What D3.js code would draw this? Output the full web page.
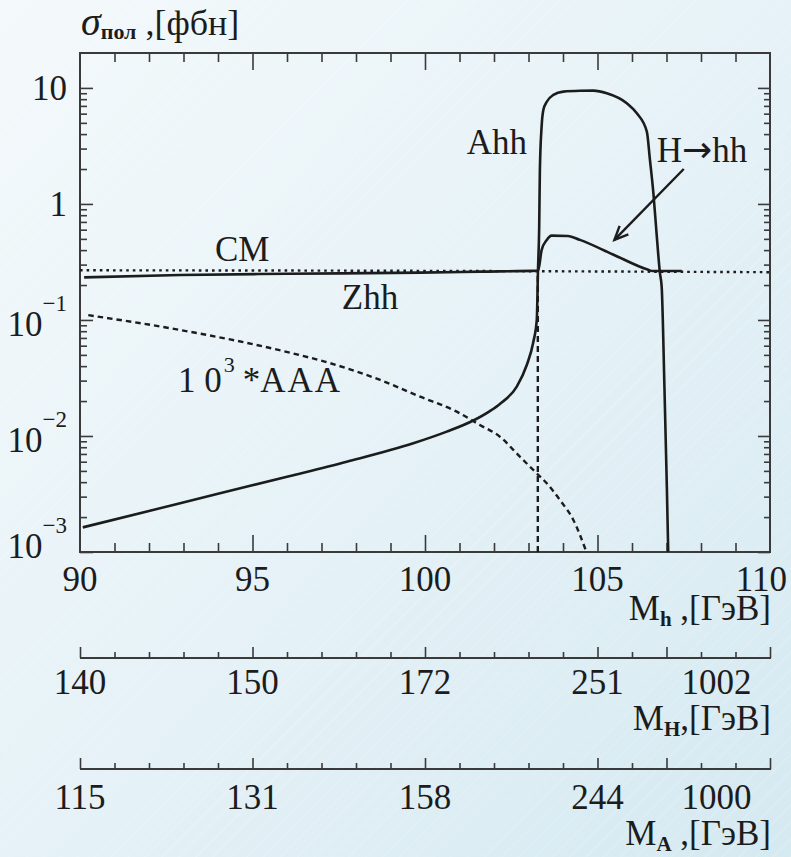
<!DOCTYPE html>
<html><head><meta charset="utf-8">
<script src="https://cdn.jsdelivr.net/npm/d3@7"></script>
<style>
html,body{margin:0;padding:0;background:#eaf4f8}svg{display:block}
svg text{font-family:"Liberation Serif","Times New Roman",Times,"Tinos","Nimbus Roman","DejaVu Serif","Noto Serif",serif;}
</style>
</head><body>
<svg id="c" width="791" height="857"></svg>
<script>
// ---------- data ----------
const cmMh   = [90, 100, 110];
const cmVal  = [0.268, 0.265, 0.258];

const zhhMh  = [90.12, 92.9, 96.0, 99.86, 101.6, 103.28, 103.38, 103.53, 103.67, 104.14, 104.49, 105.45, 106.45, 106.6, 107.44];
const zhhVal = [0.233, 0.244, 0.25, 0.256, 0.261, 0.266, 0.40, 0.49, 0.533, 0.530, 0.49, 0.367, 0.272, 0.264, 0.264];

const ahhMh  = [90.08, 92.0, 94.0, 96.09, 97.73, 99.66, 100.63, 101.40, 101.88, 102.17, 102.66, 102.95, 103.14, 103.24, 103.275, 103.31, 103.33, 103.38, 103.43, 103.53, 103.72, 104.01, 104.5, 104.88, 105.27, 105.85, 106.14, 106.43, 106.52, 106.62, 106.72, 106.81, 106.86, 106.94, 107.01, 107.05];
const ahhVal = [0.00163, 0.00226, 0.00318, 0.00452, 0.0060, 0.00865, 0.0109, 0.0136, 0.0164, 0.0189, 0.0266, 0.0409, 0.0646, 0.1, 0.27, 0.637, 1.96, 4.64, 6.46, 7.6, 8.7, 9.29, 9.45, 9.48, 9.0, 7.38, 6.05, 4.2, 2.4, 1.24, 0.52, 0.253, 0.194, 0.0266, 0.00366, 0.001];

const aaaMh  = [90.24, 92.9, 96.09, 97.25, 98.70, 99.86, 100.92, 101.59, 102.17, 102.75, 103.19, 103.53, 103.91, 104.30, 104.68];
const aaaVal = [0.110, 0.082, 0.0522, 0.0424, 0.0304, 0.0218, 0.0162, 0.01245, 0.00986, 0.00663, 0.00492, 0.00391, 0.00281, 0.00189, 0.001];

const thresholdMh = 103.27;
const thresholdVal = [0.001, 0.266];

const xMajor = [95, 100, 105];
const xMinor = d3.range(91, 110);
const xLabels = [90, 95, 100, 105, 110];
const xLabelPos = [90, 95, 100, 105, 109.75];

const yMajor = [1e-3, 1e-2, 1e-1, 1, 10];
const yLabelBase = ["10", "1", "10", "10", "10"];
const yLabelExp  = ["", "", "\u22121", "\u22122", "\u22123"];
const yLabelVals = [10, 1, 1e-1, 1e-2, 1e-3];

const secTicks = d3.range(90, 111);
const secMajor = [90, 95, 100, 105, 107, 110];
const secLabelPos = [90, 95, 100, 105, 108.45];
const mHLabels = ["140", "150", "172", "251", "1002"];
const mALabels = ["115", "131", "158", "244", "1000"];

const arrowFrom = [107.5, 2.0];
const arrowTo   = [105.49, 0.49];

// ---------- setup ----------
const svg = d3.select("#c");
const INK = "#1c1c1c", AX = "#3a3a3a";
const L = 80, R = 770, T = 53, B = 552;
const x = d3.scaleLinear().domain([90, 110]).range([L, R]);
const y = d3.scaleLog().domain([1e-3, 20]).range([B, T]);

const defs = svg.append("defs");
const g1 = defs.append("linearGradient").attr("id", "bg").attr("x1", "0").attr("y1", "0").attr("x2", "1").attr("y2", "1");
g1.append("stop").attr("offset", "0").attr("stop-color", "#f4f9fb");
g1.append("stop").attr("offset", "0.5").attr("stop-color", "#e6f2f7");
g1.append("stop").attr("offset", "1").attr("stop-color", "#d5e9f1");
const pat = defs.append("pattern").attr("id", "hatch").attr("width", 12).attr("height", 12)
  .attr("patternUnits", "userSpaceOnUse").attr("patternTransform", "rotate(45)");
pat.append("line").attr("x1", 0).attr("y1", 0).attr("x2", 0).attr("y2", 12)
  .attr("stroke", "#ffffff").attr("stroke-width", 1).attr("stroke-opacity", 0.35);
svg.append("rect").attr("width", 791).attr("height", 857).attr("fill", "url(#bg)");
svg.append("rect").attr("width", 791).attr("height", 857).attr("fill", "url(#hatch)");

// ---------- axes ----------
function ax(gen, tx, ty) {
  const g = svg.append("g").attr("transform", `translate(${tx},${ty})`).call(gen);
  g.select(".domain").remove();
  g.selectAll("line").attr("stroke", AX).attr("stroke-width", 1.6);
  g.selectAll("text").remove();
  return g;
}
ax(d3.axisBottom(x).tickValues(xMinor.filter(v => !xMajor.includes(v))).tickSize(-9).tickSizeOuter(0), 0, B);
ax(d3.axisBottom(x).tickValues(xMajor).tickSize(-17).tickSizeOuter(0), 0, B);
ax(d3.axisTop(x).tickValues(xMinor.filter(v => !xMajor.includes(v))).tickSize(-9).tickSizeOuter(0), 0, T);
ax(d3.axisTop(x).tickValues(xMajor).tickSize(-17).tickSizeOuter(0), 0, T);

const yMinor = [];
yMajor.forEach(d => { for (let k = 2; k <= 9; k++) if (k * d < 20) yMinor.push(k * d); });
ax(d3.axisLeft(y).tickValues(yMinor).tickSize(-7).tickSizeOuter(0), L, 0);
ax(d3.axisLeft(y).tickValues(yMajor).tickSize(-13).tickSizeOuter(0), L, 0);
ax(d3.axisRight(y).tickValues(yMinor).tickSize(-6).tickSizeOuter(0), R, 0);
ax(d3.axisRight(y).tickValues(yMajor).tickSize(-12).tickSizeOuter(0), R, 0);

svg.append("rect").attr("x", L).attr("y", T).attr("width", R - L).attr("height", B - T)
  .attr("fill", "none").attr("stroke", AX).attr("stroke-width", 2);

// x tick labels
svg.append("g").selectAll("text").data(xLabels).join("text")
  .attr("x", (d, i) => x(xLabelPos[i])).attr("y", 591).attr("text-anchor", "middle")
  .attr("font-size", 35).attr("fill", INK).text(d => d);

// y tick labels
yLabelVals.forEach((v, i) => {
  const t = svg.append("text").attr("x", 67).attr("text-anchor", "end")
    .attr("font-size", 35).attr("fill", INK);
  if (yLabelExp[i] === "") {
    t.attr("y", y(v) + 12).text(yLabelBase[i]);
  } else {
    t.attr("y", Math.min(y(v) + 16, 558));
    t.append("tspan").text(yLabelBase[i]);
    t.append("tspan").attr("font-size", 23).attr("dy", -25).text(yLabelExp[i]);
  }
});

// secondary axes
function secAxis(yy, labels, sub, sep, labY, titleY) {
  svg.append("line").attr("x1", L).attr("x2", R + 1).attr("y1", yy).attr("y2", yy)
    .attr("stroke", AX).attr("stroke-width", 2);
  ax(d3.axisBottom(x).tickValues(secTicks.filter(v => !secMajor.includes(v))).tickSize(-6).tickSizeOuter(0), 0, yy);
  ax(d3.axisBottom(x).tickValues(secMajor).tickSize(-11).tickSizeOuter(0), 0, yy);
  svg.append("g").selectAll("text").data(labels).join("text")
    .attr("x", (d, i) => x(secLabelPos[i])).attr("y", labY).attr("text-anchor", "middle")
    .attr("font-size", 35).attr("fill", INK).text(d => d);
  const t = svg.append("text").attr("x", 771).attr("y", titleY).attr("text-anchor", "end")
    .attr("font-size", 35).attr("fill", INK);
  t.append("tspan").text("M");
  t.append("tspan").attr("font-size", 21).attr("font-weight", "bold").attr("dy", 6).text(sub);
  t.append("tspan").attr("dy", -6).text(sep + ",[ГэВ]");
}
(function () {
  const t = svg.append("text").attr("x", 771).attr("y", 620).attr("text-anchor", "end")
    .attr("font-size", 35).attr("fill", INK);
  t.append("tspan").text("M");
  t.append("tspan").attr("font-size", 21).attr("font-weight", "bold").attr("dy", 6).text("h");
  t.append("tspan").attr("dy", -6).text(" ,[ГэВ]");
})();
secAxis(658, mHLabels, "H", "", 694, 730);
secAxis(769, mALabels, "A", " ", 809, 845);

// y title
(function () {
  const t = svg.append("text").attr("x", 81).attr("y", 35)
    .attr("font-size", 36).attr("fill", INK);
  t.append("tspan").attr("font-style", "italic").attr("font-size", 40).text("σ");
  t.append("tspan").attr("font-size", 22).attr("font-weight", "bold").attr("dy", 4).text("пол");
  t.append("tspan").attr("dy", -4).text(" ,[фбн]");
})();

// ---------- curves ----------
const line = d3.line().x(d => x(d[0])).y(d => y(d[1])).curve(d3.curveMonotoneX);
const zip = (a, b) => a.map((v, i) => [v, b[i]]);
const plot = svg.append("g");

plot.append("path").datum(zip(cmMh, cmVal)).attr("d", line)
  .attr("fill", "none").attr("stroke", INK).attr("stroke-width", 2.4).attr("stroke-dasharray", "2.6,4");
plot.append("path").datum(zip(aaaMh, aaaVal)).attr("d", line)
  .attr("fill", "none").attr("stroke", INK).attr("stroke-width", 2.4).attr("stroke-dasharray", "5.5,4");
plot.append("line").attr("x1", x(thresholdMh)).attr("x2", x(thresholdMh))
  .attr("y1", y(thresholdVal[0])).attr("y2", y(thresholdVal[1]))
  .attr("stroke", INK).attr("stroke-width", 2.4).attr("stroke-dasharray", "6,4");
plot.append("path").datum(zip(zhhMh, zhhVal)).attr("d", line)
  .attr("fill", "none").attr("stroke", INK).attr("stroke-width", 2.6).attr("stroke-linejoin", "round");
plot.append("path").datum(zip(ahhMh, ahhVal)).attr("d", line)
  .attr("fill", "none").attr("stroke", INK).attr("stroke-width", 2.6).attr("stroke-linejoin", "round");

// arrow
(function () {
  const x1 = x(arrowFrom[0]), y1 = y(arrowFrom[1]), x2 = x(arrowTo[0]), y2 = y(arrowTo[1]);
  plot.append("line").attr("x1", x1).attr("y1", y1).attr("x2", x2).attr("y2", y2)
    .attr("stroke", INK).attr("stroke-width", 2.4);
  const a = Math.atan2(y2 - y1, x2 - x1), len = 15, sp = 0.42;
  const p = [[x2 - len * Math.cos(a - sp), y2 - len * Math.sin(a - sp)], [x2, y2], [x2 - len * Math.cos(a + sp), y2 - len * Math.sin(a + sp)]];
  plot.append("path").attr("d", d3.line()(p)).attr("fill", "none").attr("stroke", INK)
    .attr("stroke-width", 2.4).attr("stroke-linejoin", "miter");
})();

// ---------- annotations ----------
function ann(mh, v, txt) {
  return svg.append("text").attr("x", x(mh)).attr("y", y(v))
    .attr("font-size", 35).attr("fill", INK).text(txt);
}
ann(93.91, 0.324, "СМ");
ann(97.59, 0.1236, "Zhh");
ann(101.21, 2.68, "Ahh");
(function () {
  const t = ann(106.72, 2.32, "");
  t.append("tspan").text("H");
  t.append("tspan").style("font-family", "'DejaVu Sans'").attr("font-size", 36).text("\u2192");
  t.append("tspan").text("hh");
})();
(function () {
  const t = svg.append("text").attr("x", x(92.84)).attr("y", y(0.0239))
    .attr("font-size", 35).attr("fill", INK);
  t.append("tspan").text("1 0");
  t.append("tspan").attr("font-size", 22).attr("dy", -20).attr("dx", 2).text("3");
  t.append("tspan").attr("dy", 20).attr("dx", 8).text("*");
  t.append("tspan").attr("letter-spacing", 2).text("AAA");
})();
</script>
</body></html>
